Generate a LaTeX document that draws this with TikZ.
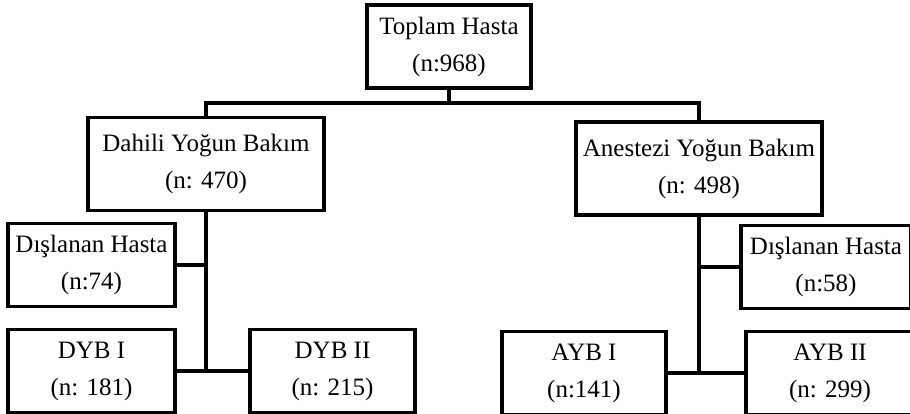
\documentclass[tikz,border=0pt]{standalone}
\usepackage{fontspec}
\setmainfont{Liberation Serif}
\usepackage{tikz}

\begin{document}
\begin{tikzpicture}[x=1pt,y=-1pt,line width=3.2pt]
    \tikzstyle{box}=[draw,rectangle,inner sep=2pt,align=center,font=\fontsize{25}{37}\selectfont]
    \tikzstyle{top box}=[box, minimum width=164pt, minimum height=83pt];
    \tikzstyle{unit box}=[box, minimum height=93pt];
    \tikzstyle{sub box}=[box, minimum width=167pt, minimum height=83pt];

    \useasboundingbox (0,0) rectangle (910,414);

    % Draw the top node
    \node[top box] (T) at (449,46.5) {Toplam Hasta\\(n:968)};

    % The two units
    \node[unit box, minimum width=236pt] (D) at (206,164) {Dahili Yoğun Bakım\\(n: 470)};
    \node[unit box, minimum width=246pt] (A) at (699,168.5) {Anestezi Yoğun Bakım\\(n: 498)};

    % Sub groups
    \node[sub box] (D-0) at (91.5,265) {Dışlanan Hasta\\(n:74)};
    \node[sub box] (D-1) at (91.5,371) {DYB I\\(n: 181)};
    \node[sub box, minimum width=165pt] (D-2) at (332.5,371) {DYB II\\(n: 215)};
    \node[sub box, minimum width=170pt] (A-0) at (826,267) {Dışlanan Hasta\\(n:58)};
    \node[sub box, minimum width=164pt] (A-1) at (584,373) {AYB I\\(n:141)};
    \node[sub box, minimum width=168pt] (A-2) at (830,373) {AYB II\\(n: 299)};

    % Connect them
    \coordinate (J) at (449,103);
    \draw (T.south) -- (J);
    \draw (J) -| (D.north);
    \draw (J) -| (A.north);
    \draw (D.south) -- (D.south |- D-1.east);
    \draw (D-0.east) -- (D-0.east -| D.south);
    \draw (D-1.east) -- (D-2.west);
    \draw (A.south) -- (A.south |- A-1.east);
    \draw (A-0.west) -- (A-0.west -| A.south);
    \draw (A-1.east) -- (A-2.west);
\end{tikzpicture}
\end{document}
